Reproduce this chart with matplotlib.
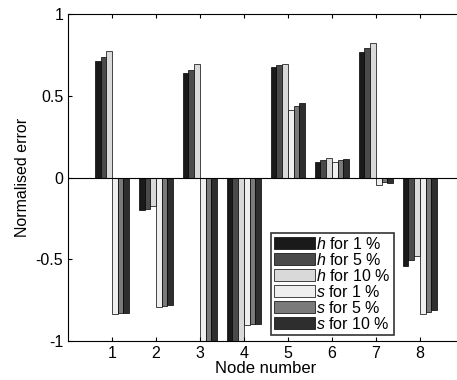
import matplotlib
matplotlib.use("Agg")
import matplotlib.pyplot as plt
import numpy as np

plt.rcParams['font.family'] = ['Liberation Sans', 'DejaVu Sans']
plt.rcParams['mathtext.fontset'] = 'custom'
plt.rcParams['mathtext.it'] = 'Liberation Sans:italic'
plt.rcParams['mathtext.rm'] = 'Liberation Sans'

nodes = [1, 2, 3, 4, 5, 6, 7, 8]
series_labels = [r"$h$ for 1 %", r"$h$ for 5 %", r"$h$ for 10 %",
                 r"$s$ for 1 %", r"$s$ for 5 %", r"$s$ for 10 %"]
h_1 = [0.713, -0.200, 0.642, -1.05, 0.673, 0.092, 0.770, -0.543]
h_5 = [0.738, -0.190, 0.660, -1.05, 0.689, 0.106, 0.793, -0.506]
h_10 = [0.775, -0.174, 0.693, -1.05, 0.695, 0.120, 0.823, -0.481]
s_1 = [-0.836, -0.789, -1.05, -0.900, 0.416, 0.095, -0.043, -0.836]
s_5 = [-0.830, -0.785, -1.05, -0.897, 0.440, 0.106, -0.027, -0.822]
s_10 = [-0.826, -0.780, -1.05, -0.893, 0.453, 0.114, -0.031, -0.808]
series = [h_1, h_5, h_10, s_1, s_5, s_10]
colors = ["#1a1a1a", "#4a4a4a", "#d9d9d9", "#efefef", "#7a7a7a", "#2e2e2e"]

fig = plt.figure(figsize=(4.57, 3.8), dpi=100)
ax = fig.add_axes([0.1488, 0.1026, 0.866, 0.8605])

x = np.array(nodes, dtype=float)
n = len(series)
w = 0.78 / n
for i, (vals, c, lab) in enumerate(zip(series, colors, series_labels)):
    ax.bar(x + (i - (n - 1) / 2) * w, vals, width=w, color=c,
           edgecolor="black", linewidth=0.5, label=lab)

ax.axhline(0, color="black", linewidth=0.8)
ax.set_xlim(0, 9)
ax.set_ylim(-1, 1)
ax.set_xticks(nodes)
ax.set_yticks([-1, -0.5, 0, 0.5, 1])
ax.set_yticklabels(["-1", "-0.5", "0", "0.5", "1"])
ax.tick_params(direction="in", length=3, labelsize=11.5, top=True, width=0.8)
ax.spines["right"].set_visible(False)
for s in ("left", "top", "bottom"):
    ax.spines[s].set_linewidth(0.8)
ax.set_xlabel("Node number", fontsize=12, labelpad=0)
ax.set_ylabel("Normalised error", fontsize=11.5, labelpad=4)

leg = ax.legend(loc="lower left", bbox_to_anchor=(0.5126, 0.018), fontsize=11.5,
                frameon=True, fancybox=False, edgecolor="black",
                handlelength=2.55, handleheight=0.8, handletextpad=0.1,
                labelspacing=0.0, borderpad=0.2, borderaxespad=0)
leg.get_frame().set_linewidth(1.2)

fig.savefig("out.png", dpi=100)
